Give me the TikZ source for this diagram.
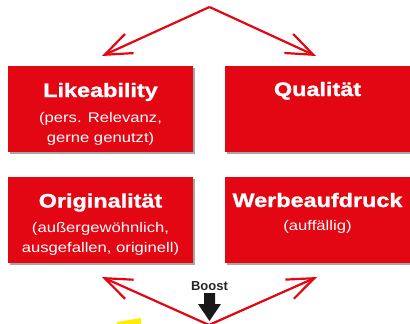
\documentclass[tikz,border=0pt]{standalone}
\usepackage{fontspec}
\setmainfont{Liberation Sans}
\newfontfamily\titlef[FakeStretch=1.2,FakeBold=1.2]{Liberation Sans}
\newfontfamily\subf[FakeStretch=1.19]{Liberation Sans}
\usetikzlibrary{arrows.meta,shadows}
\definecolor{boxred}{HTML}{E30613}
\definecolor{signyellow}{HTML}{FFED00}
\tikzset{
  redbox/.style={fill=boxred, draw=none, minimum width=185pt, minimum height=86pt, anchor=north west, inner sep=0pt,
    drop shadow={shadow xshift=1.5pt, shadow yshift=-1.5pt, fill=black, opacity=0.35}},
  ttl/.style={text=white, font=\titlef\bfseries\fontsize{19.5}{22}\selectfont, anchor=base, inner sep=0pt},
  sub/.style={text=white, font=\subf\fontsize{14}{16}\selectfont, anchor=base, inner sep=0pt},
  redarrow/.style={draw=boxred, line width=2.2pt, -{Straight Barb[length=27pt,width=21pt,line width=2.2pt]}},
  boostlbl/.style={font=\bfseries\fontsize{13}{15}\selectfont, text=black!85, anchor=base, inner sep=0pt}
}
\begin{document}
\begin{tikzpicture}[x=1pt,y=-1pt]
\useasboundingbox (0,0) rectangle (410,324);
% boxes
\node[redbox] (like) at (8,66) {};
\node[redbox] (qual) at (225,66) {};
\node[redbox] (orig) at (8,177) {};
\node[redbox] (werb) at (225,177) {};
% texts
\node[ttl] (liket) at (100.5,97) {Likeability};
\node[sub] (likes1) at (100.5,122) {(pers. Relevanz,};
\node[sub] (likes2) at (100.5,142) {gerne genutzt)};
\node[ttl] (qualt) at (317.5,96) {Qualität};
\node[ttl] (origt) at (100.5,207.5) {Originalität};
\node[sub] (origs1) at (100.5,232) {(außergewöhnlich,};
\node[sub] (origs2) at (100.5,252) {ausgefallen, originell)};
\node[ttl] (werbt) at (317.5,207) {Werbeaufdruck};
\node[sub] (werbs1) at (317.5,230) {(auffällig)};
% top arrows
\coordinate (top) at (209.5,7);
\coordinate (tl) at (102,56);
\coordinate (tr) at (316,56);
\draw[redarrow] (top) -- (tl);
\draw[redarrow] (top) -- (tr);
% bottom arrows
\coordinate (bot) at (209,325);
\coordinate (bl) at (102,277);
\coordinate (br) at (317,277);
\draw[redarrow] (bot) -- (bl);
\draw[redarrow] (bot) -- (br);
% boost
\node[boostlbl] (boost) at (209.5,290) {Boost};
\fill[black!90] (204,293) -- (215,293) -- (215,304) -- (221,304) -- (209.5,321) -- (198,304) -- (204,304) -- cycle;
% yellow corner
\fill[signyellow] (117,325) -- (117,322) -- (141,318) -- (141,325) -- cycle;
\end{tikzpicture}
\end{document}
